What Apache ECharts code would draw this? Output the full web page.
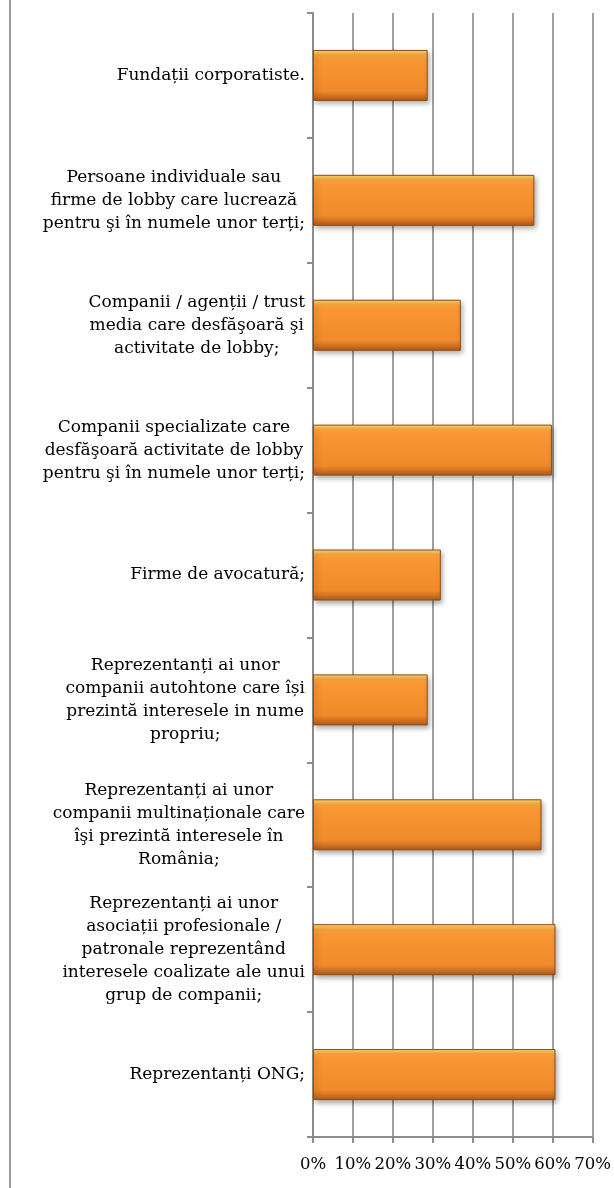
<!DOCTYPE html>
<html>
<head>
<meta charset="utf-8">
<style>
html,body{margin:0;padding:0;background:#fff;}
#chart{width:614px;height:1188px;}
</style>
<script src="https://cdn.jsdelivr.net/npm/echarts@6/dist/echarts.min.js"></script>
</head>
<body>
<div id="chart"></div>
<script>
const categories = [
  "Fundații corporatiste.",
  "Persoane individuale sau\nfirme de lobby care lucrează\npentru şi în numele unor terți;",
  "Companii / agenții / trust\nmedia care desfăşoară şi\nactivitate de lobby;",
  "Companii specializate care\ndesfăşoară activitate de lobby\npentru şi în numele unor terți;",
  "Firme de avocatură;",
  "Reprezentanți ai unor\ncompanii autohtone care își\nprezintă interesele in nume\npropriu;",
  "Reprezentanți ai unor\ncompanii multinaționale care\nîşi prezintă interesele în\nRomânia;",
  "Reprezentanți ai unor\nasociații profesionale /\npatronale reprezentând\ninteresele coalizate ale unui\ngrup de companii;",
  "Reprezentanți ONG;"
];
const values = [28.7, 55.4, 37.0, 59.8, 32.0, 28.7, 57.2, 60.7, 60.7];
const xTicks = [0, 10, 20, 30, 40, 50, 60, 70];

const chart = echarts.init(document.getElementById('chart'), null, {renderer: 'canvas'});
const serif = "'DejaVu Serif', 'Liberation Serif', serif";
chart.setOption({
  animation: false,
  backgroundColor: '#ffffff',
  grid: {left: 313, right: 21, top: 13, bottom: 51, containLabel: false},
  graphic: [{
    type: 'line', silent: true,
    shape: {x1: 10, y1: 0, x2: 10, y2: 1188},
    style: {stroke: '#9a9a9a', lineWidth: 2}
  }],
  xAxis: {
    type: 'value', min: xTicks[0], max: xTicks[xTicks.length - 1], interval: 10,
    axisLine: {show: true, lineStyle: {color: '#8c8c8c', width: 2}},
    axisTick: {show: true, length: 6, lineStyle: {color: '#8c8c8c', width: 2}},
    splitLine: {show: true, lineStyle: {color: '#a0a0a0', width: 2}},
    axisLabel: {
      margin: 19, color: '#000', fontFamily: serif, fontSize: 16.5,
      formatter: v => v + '%'
    }
  },
  yAxis: {
    type: 'category', inverse: true, data: categories,
    axisLine: {show: true, lineStyle: {color: '#8c8c8c', width: 2}},
    axisTick: {show: true, length: 6, lineStyle: {color: '#8c8c8c', width: 2}},
    axisLabel: {
      margin: 8, color: '#000', fontFamily: serif, fontSize: 17, align: 'right',
      formatter: v => v.split('\n').map(l => '{c|' + l + '}').join('\n'),
      rich: {c: {align: 'center', fontFamily: serif, fontSize: 17, lineHeight: 23, color: '#000'}}
    }
  },
  series: [{
    type: 'bar', data: values, barWidth: 51,
    itemStyle: {
      color: {
        type: 'linear', x: 0, y: 0, x2: 0, y2: 1,
        colorStops: [
          {offset: 0, color: '#FFDC70'},
          {offset: 0.1, color: '#FBA640'},
          {offset: 0.2, color: '#F99532'},
          {offset: 0.8, color: '#F08A2A'},
          {offset: 0.9, color: '#D27222'},
          {offset: 1, color: '#A85A1A'}
        ]
      },
      borderColor: '#8F4E14', borderWidth: 1,
      shadowBlur: 5, shadowOffsetX: 2, shadowOffsetY: 3, shadowColor: 'rgba(0,0,0,0.35)'
    }
  }]
});
</script>
</body>
</html>
